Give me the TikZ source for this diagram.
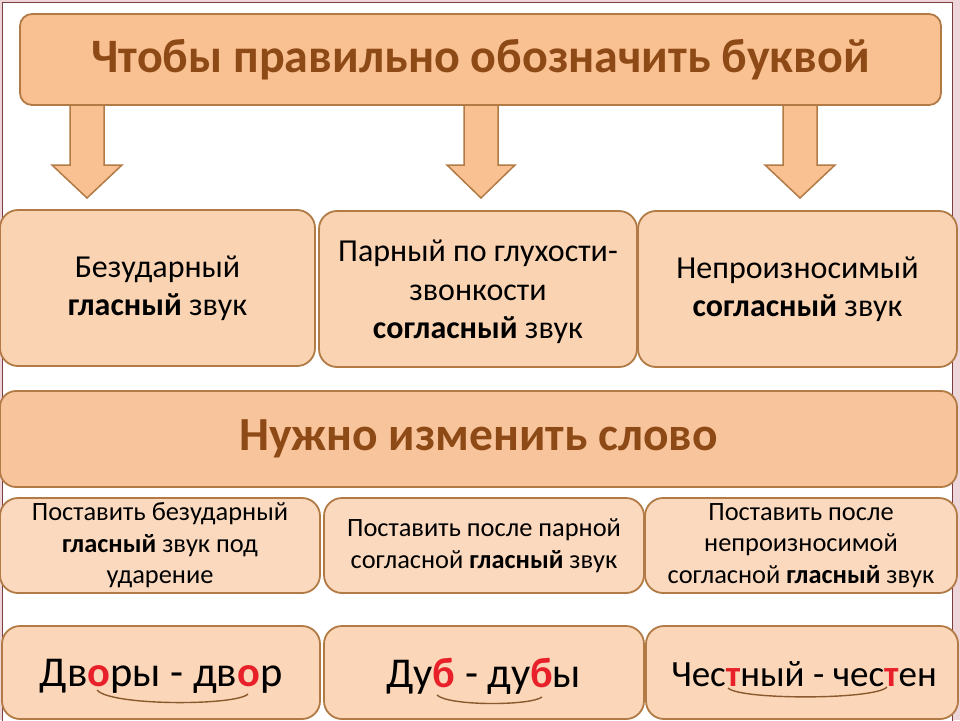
\documentclass[tikz,border=0pt]{standalone}
\usepackage{fontspec}
\setmainfont{Carlito}
\usetikzlibrary{calc}
\definecolor{brd}{HTML}{B27A45}
\definecolor{fA}{HTML}{F9C092}
\definecolor{fB}{HTML}{FAD3B2}
\definecolor{fC}{HTML}{F8C49C}
\definecolor{fD}{HTML}{FBD9BE}
\definecolor{fE}{HTML}{FBD6B8}
\definecolor{ttl}{HTML}{8E4A16}
\definecolor{rd}{HTML}{E8202A}
\definecolor{arcc}{HTML}{8A5A2E}
\definecolor{frm}{HTML}{7A4040}
\definecolor{pinkbg}{HTML}{EED5DA}
\begin{document}
\begin{tikzpicture}[x=1pt,y=-1pt,
  box/.style={draw=brd, line width=1.8pt, rounded corners=18pt, align=center, inner sep=0pt, text=black},
  blockarrow/.style={draw=brd, line width=1.5pt, fill=fA, line join=miter},
  ulinearc/.style={draw=arcc, line width=1.4pt}]
\clip (0,0) rectangle (960,720);
\fill[pinkbg] (0,0) rectangle (960,720);
\fill[white] (3,3) rectangle (952,725);
\draw[frm, line width=1pt] (2.5,725) -- (2.5,2.5) -- (952,2.5) -- (952,725);
% block arrows
\draw[blockarrow] (70,100) -- (104,100) -- (104,165) -- (122,165) -- (87,198) -- (52,165) -- (70,165) -- cycle;
\draw[blockarrow] (464,100) -- (498,100) -- (498,165) -- (515,165) -- (481,198) -- (447,165) -- (464,165) -- cycle;
\draw[blockarrow] (783,100) -- (817,100) -- (817,165) -- (835,165) -- (800,198) -- (765,165) -- (783,165) -- cycle;
% title
\node[box, fill=fA, rounded corners=12pt, minimum width=921pt, minimum height=91pt,
  font=\fontsize{48}{54}\selectfont\bfseries, text=ttl] (title) at (480.5,59.5) {Чтобы правильно обозначить буквой};
% row 2
\node[box, fill=fB, minimum width=315pt, minimum height=156pt, font=\fontsize{32}{38}\selectfont] (b1) at (157.5,288)
  {Безударный\\\textbf{гласный} звук};
\node[box, fill=fB, minimum width=318pt, minimum height=156pt] (b2) at (478,289) {};
\node[align=center, inner sep=0pt, font=\fontsize{32}{38.5}\selectfont] (b2t) at (478,292)
  {Парный по глухости-\\звонкости\\\textbf{согласный} звук};
\node[box, fill=fB, minimum width=319pt, minimum height=156pt, font=\fontsize{32}{38}\selectfont] (b3) at (797.5,289)
  {Непроизносимый\\\textbf{согласный} звук};
% row 3
\node[box, fill=fC, rounded corners=16pt, minimum width=957pt, minimum height=96pt,
  font=\fontsize{47.5}{54}\selectfont\bfseries, text=ttl] (change) at (478.5,439) {Нужно изменить слово};
% row 4
\node[box, fill=fD, minimum width=320pt, minimum height=95pt, font=\fontsize{26.4}{31.5}\selectfont] (c1) at (160,545.5)
  {Поставить безударный\\\textbf{гласный} звук под\\ударение};
\node[box, fill=fD, minimum width=320pt, minimum height=95pt, font=\fontsize{26.4}{31.5}\selectfont] (c2) at (484,545.5)
  {Поставить после парной\\согласной \textbf{гласный} звук};
\node[box, fill=fD, minimum width=312pt, minimum height=95pt, font=\fontsize{26.4}{31.5}\selectfont] (c3) at (801,545.5)
  {Поставить после\\непроизносимой\\согласной \textbf{гласный} звук};
% row 5
\node[box, fill=fE, minimum width=318pt, minimum height=93pt] (d1) at (161,672.5) {};
\node[box, fill=fE, minimum width=320pt, minimum height=93pt] (d2) at (484,672.5) {};
\node[box, fill=fE, minimum width=312pt, minimum height=93pt] (d3) at (802,672.5) {};
\node[inner sep=0pt, font=\fontsize{42.5}{48}\selectfont] (d1t) at (161,676)
  {Дв{\color{rd}\bfseries о}ры - дв{\color{rd}\bfseries о}р};
\node[inner sep=0pt, font=\fontsize{42.5}{48}\selectfont] (d2t) at (484,676)
  {Ду{\color{rd}\bfseries б} - ду{\color{rd}\bfseries б}ы};
\node[inner sep=0pt, font=\fontsize{37}{44}\selectfont] (d3t) at (804,674)
  {Чес{\color{rd}\bfseries т}ный - чес{\color{rd}\bfseries т}ен};
% underline arcs
\draw[ulinearc] (97,690) .. controls (110,706) and (236,706) .. (248,694);
\draw[ulinearc] (437,695) .. controls (448,706) and (530,706) .. (542,697);
\draw[ulinearc] (728,688) .. controls (740,700) and (875,700) .. (887,687);
\end{tikzpicture}
\end{document}
